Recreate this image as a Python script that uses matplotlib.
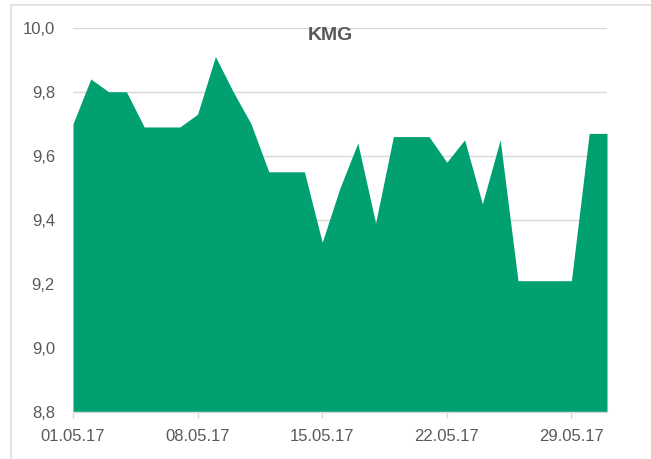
import matplotlib
matplotlib.use("Agg")
import matplotlib.pyplot as plt
import matplotlib.dates as mdates
from matplotlib.patches import Rectangle
from matplotlib.ticker import FuncFormatter
import pandas as pd

plt.rcParams['font.family'] = ['Liberation Sans', 'DejaVu Sans']

title = "KMG"
dates = pd.date_range("2017-05-01", "2017-05-31", freq="D")
values = [9.70, 9.84, 9.80, 9.80, 9.69, 9.69, 9.69, 9.73, 9.91, 9.80,
          9.70, 9.55, 9.55, 9.55, 9.33, 9.50, 9.64, 9.39, 9.66, 9.66,
          9.66, 9.58, 9.65, 9.45, 9.65, 9.21, 9.21, 9.21, 9.21, 9.67, 9.67]
y_ticks = [8.8, 9.0, 9.2, 9.4, 9.6, 9.8, 10.0]
x_ticks = pd.to_datetime(["2017-05-01", "2017-05-08", "2017-05-15",
                          "2017-05-22", "2017-05-29"])

text_color = "#595959"
grid_color = "#d9d9d9"
fill_color = "#00A070"

fig = plt.figure(figsize=(6.51, 4.59), dpi=100)
fig.patches.append(Rectangle((11/651, -0.1), 1.2, 1 - 5/459 + 0.1,
                             transform=fig.transFigure, fill=False,
                             edgecolor="#dedede", linewidth=1.2, zorder=0))
ax = fig.add_axes([73/651, 1 - 412/459, (607 - 73)/651, (412 - 27.7)/459])

ax.fill_between(dates, values, y_ticks[0], color=fill_color, linewidth=0, zorder=2)

ax.set_xlim(dates[0], dates[-1])
ax.set_ylim(y_ticks[0], y_ticks[-1])
ax.set_yticks(y_ticks)
ax.yaxis.set_major_formatter(FuncFormatter(lambda v, p: f"{v:.1f}".replace(".", ",")))
ax.set_xticks(x_ticks)
ax.xaxis.set_major_formatter(mdates.DateFormatter("%d.%m.%y"))

ax.grid(axis="y", color=grid_color, linewidth=1.0, zorder=1)
ax.set_axisbelow(True)
for s in ["top", "right", "left"]:
    ax.spines[s].set_visible(False)
ax.spines["bottom"].set_color(grid_color)
ax.spines["bottom"].set_linewidth(1.0)
ax.spines["bottom"].set_zorder(3)

ax.tick_params(axis="y", length=0, pad=13, labelsize=12, labelcolor=text_color)
ax.tick_params(axis="x", length=4, width=1, color=grid_color, pad=8,
               labelsize=12, labelcolor=text_color)

fig.text(330/651, 1 - 35/459, title, ha="center", va="center",
         fontsize=14, fontweight="bold", color=text_color)

fig.savefig("out.png", dpi=100)
